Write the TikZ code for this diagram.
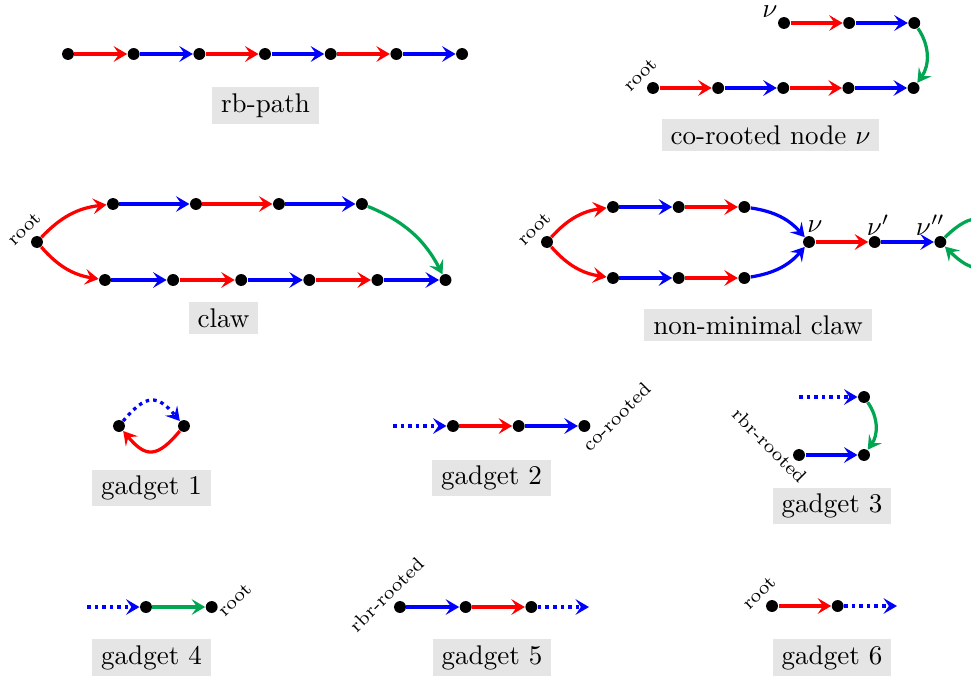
\documentclass[tikz,border=0pt]{standalone}
\usepackage{amsmath}
\usepackage{amssymb}
\usepackage[usenames,dvipsnames]{xcolor}
\usetikzlibrary{arrows.meta,positioning,quotes}
\definecolor{rbgreen}{RGB}{0,166,81}
\tikzset{
	vx/.style={circle,fill=black,inner sep=0pt,minimum size=4.4pt},
	ar/.style={very thick,-{Stealth[length=5pt,width=5.8pt,inset=2pt]}},
	re/.style={ar,red},
	be/.style={ar,blue},
	ge/.style={ar,rbgreen},
	bd/.style={be,dash pattern=on 1.3pt off 1.5pt},
	caption/.style={fill=black!10,inner xsep=3.3pt,inner ysep=2.3pt},
	tag/.style={font=\scriptsize,inner sep=0.5pt,anchor=center},
	up/.style={tag,rotate=45},
	dn/.style={tag,rotate=-45},
	mlab/.style={inner sep=1pt,anchor=center},
}
\begin{document}
\begin{tikzpicture}[x=0.37pt,y=-0.37pt,node distance=24.3pt,on grid]
	\useasboundingbox (0,0) rectangle (971,677);
	% rb-path
	\node[vx] (p1) at (68,54) {};
	\node[vx,right=of p1] (p2) {};
	\node[vx,right=of p2] (p3) {};
	\node[vx,right=of p3] (p4) {};
	\node[vx,right=of p4] (p5) {};
	\node[vx,right=of p5] (p6) {};
	\node[vx,right=of p6] (p7) {};
	\foreach \a/\b/\c in {p1/p2/re,p2/p3/be,p3/p4/re,p4/p5/be,p5/p6/re,p6/p7/be}
		\draw[\c] (\a) -- (\b);
	\node[caption] (rbcap) at (265.5,105.5) {rb-path};
	% co-rooted node
	\node[vx] (c1) at (653,88) {};
	\node[vx,right=24.1pt of c1] (c2) {};
	\node[vx,right=24.1pt of c2] (c3) {};
	\node[vx,right=24.1pt of c3] (c4) {};
	\node[vx,right=24.1pt of c4] (c5) {};
	\node[vx] (t1) at (784,23) {};
	\node[vx,right=24.1pt of t1] (t2) {};
	\node[vx,right=24.1pt of t2] (t3) {};
	\node[up] (c1lab) at ([shift={(-13,-13)}]c1) {root};
	\node[mlab] (t1lab) at ([shift={(-14,-11.5)}]t1) {$\nu$};
	\draw[re] (c1) -- (c2);
	\draw[be] (c2) -- (c3);
	\draw[re] (c3) -- (c4);
	\draw[be] (c4) -- (c5);
	\draw[re] (t1) -- (t2);
	\draw[be] (t2) -- (t3);
	\draw[ge] (t3) to[bend left=35] (c5);
	\node[caption] (cocap) at (770.5,135) {co-rooted node $\nu$};
	% claw
	\node[vx] (r) at (37,242) {};
	\node[up] (rlab) at ([shift={(-13,-13)}]r) {root};
	\node[vx] (a1) at (113,204) {};
	\node[vx,right=30.7pt of a1] (a2) {};
	\node[vx,right=30.7pt of a2] (a3) {};
	\node[vx,right=30.7pt of a3] (a4) {};
	\node[vx] (b1) at (105,280) {};
	\node[vx,right=25.2pt of b1] (b2) {};
	\node[vx,right=25.2pt of b2] (b3) {};
	\node[vx,right=25.2pt of b3] (b4) {};
	\node[vx,right=25.2pt of b4] (b5) {};
	\node[vx,right=25.2pt of b5] (b6) {};
	\draw[re] (r) to[bend left=20] (a1);
	\draw[re] (r) to[bend right=20] (b1);
	\draw[be] (a1) -- (a2);
	\draw[re] (a2) -- (a3);
	\draw[be] (a3) -- (a4);
	\draw[ge] (a4) to[bend left=20] (b6);
	\foreach \a/\b/\c in {b1/b2/be,b2/b3/re,b3/b4/be,b4/b5/re,b5/b6/be}
		\draw[\c] (\a) -- (\b);
	\node[caption] (clawcap) at (223.5,318) {claw};
	% non-minimal claw
	\node[vx] (q) at (547,242) {};
	\node[up] (qlab) at ([shift={(-13,-13)}]q) {root};
	\node[vx] (u1) at (613,207) {};
	\node[vx,right=of u1] (u2) {};
	\node[vx,right=of u2] (u3) {};
	\node[vx] (d1) at (613,278) {};
	\node[vx,right=of d1] (d2) {};
	\node[vx,right=of d2] (d3) {};
	\node[vx] (nu) at (809,242) {};
	\node[vx,right=of nu] (nu1) {};
	\node[vx,right=of nu1] (nu2) {};
	\node[mlab] (nulab) at ([shift={(6,-15.5)}]nu) {$\nu$};
	\node[mlab] (nu1lab) at ([shift={(3.5,-17)}]nu1) {$\nu'$};
	\node[mlab] (nu2lab) at ([shift={(-10,-17)}]nu2) {$\nu''$};
	\draw[re] (q) to[bend left=20] (u1);
	\draw[re] (q) to[bend right=20] (d1);
	\draw[be] (u1) -- (u2);
	\draw[re] (u2) -- (u3);
	\draw[be] (u3) to[bend left=20] (nu);
	\draw[be] (d1) -- (d2);
	\draw[re] (d2) -- (d3);
	\draw[be] (d3) to[bend right=20] (nu);
	\draw[re] (nu) -- (nu1);
	\draw[be] (nu1) -- (nu2);
	\draw[ge] (nu2) to[out=45,in=-45,distance=36pt] (nu2);
	\node[caption] (nmcap) at (758,325) {non-minimal claw};
	% gadget 1
	\node[vx] (g1a) at (119,426) {};
	\node[vx] (g1b) at (184,426) {};
	\draw[bd] (g1a) to[bend left=50,looseness=1.6] (g1b);
	\draw[re] (g1b) to[bend left=50,looseness=1.6] (g1a);
	\node[caption] (cap1) at (151.5,488) {gadget 1};
	% gadget 2
	\coordinate (s2) at (393,426);
	\node[vx] (g2a) at (453,426) {};
	\node[vx,right=of g2a] (g2b) {};
	\node[vx,right=of g2b] (g2c) {};
	\node[up] (g2lab) at ([shift={(32,-9)}]g2c) {co-rooted};
	\draw[bd] (s2) -- (g2a);
	\draw[re] (g2a) -- (g2b);
	\draw[be] (g2b) -- (g2c);
	\node[caption] (cap2) at (491.5,478) {gadget 2};
	% gadget 3
	\coordinate (s3) at (799,397);
	\node[vx] (g3a) at (864,397) {};
	\node[vx] (g3b) at (864,455) {};
	\node[vx] (g3c) at (799,455) {};
	\node[dn] (g3lab) at ([shift={(-29.5,-9.5)}]g3c) {rbr-rooted};
	\draw[bd] (s3) -- (g3a);
	\draw[ge] (g3a) to[bend left=35] (g3b);
	\draw[be] (g3c) -- (g3b);
	\node[caption] (cap3) at (832,506) {gadget 3};
	% gadget 4
	\coordinate (s4) at (87,607);
	\node[vx] (g4a) at (146,607) {};
	\node[vx,right=of g4a] (g4b) {};
	\node[up] (g4lab) at ([shift={(23,-7)}]g4b) {root};
	\draw[bd] (s4) -- (g4a);
	\draw[ge] (g4a) -- (g4b);
	\node[caption] (cap4) at (151.5,657.5) {gadget 4};
	% gadget 5
	\node[vx] (g5a) at (400,607) {};
	\node[vx,right=of g5a] (g5b) {};
	\node[vx,right=of g5b] (g5c) {};
	\node[up] (g5lab) at ([shift={(-13.5,-12.5)}]g5a) {rbr-rooted};
	\coordinate (e5) at (589,607);
	\draw[be] (g5a) -- (g5b);
	\draw[re] (g5b) -- (g5c);
	\draw[bd] (g5c) -- (e5);
	\node[caption] (cap5) at (492,657.5) {gadget 5};
	% gadget 6
	\node[vx] (g6a) at (772,606) {};
	\node[vx,right=of g6a] (g6b) {};
	\node[up] (g6lab) at ([shift={(-13,-13)}]g6a) {root};
	\coordinate (e6) at (897,606);
	\draw[re] (g6a) -- (g6b);
	\draw[bd] (g6b) -- (e6);
	\node[caption] (cap6) at (832,657.5) {gadget 6};
\end{tikzpicture}
\end{document}
